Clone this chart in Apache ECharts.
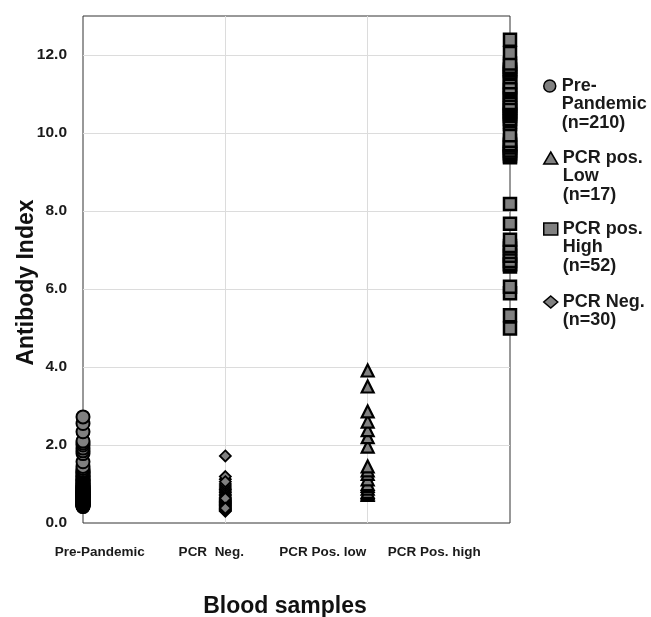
<!DOCTYPE html>
<html lang="en">
<head>
    <meta charset="UTF-8">
    <title>Antibody Index by blood sample group</title>
    <script src="https://cdn.jsdelivr.net/npm/echarts@6/dist/echarts.min.js"></script>
    <style>
        body, html {
            margin: 0;
            background: #fff;
        }
        #main {
            width: 651px;
            height: 617px;
        }
    </style>
</head>
<body>
<div id="main"></div>

<script>
    // x tick labels (drawn under the plot, not lined up with the columns)
    var categories = ['Pre-Pandemic', 'PCR  Neg.', 'PCR Pos. low', 'PCR Pos. high'];

    // antibody index values, drawn in list order
    // (mostly low to high, so the stacked outlines merge into a dark column)
    var prePandemic = [
        0.42, 0.43, 0.44, 0.45, 0.46, 0.47, 0.48, 0.49, 0.50, 0.51,
        0.52, 0.53, 0.54, 0.55, 0.56, 0.57, 0.58, 0.59, 0.60, 0.61,
        0.62, 0.63, 0.64, 0.65, 0.66, 0.67, 0.68, 0.69, 0.70, 0.71,
        0.72, 0.73, 0.74, 0.75, 0.76, 0.77, 0.78, 0.79, 0.80, 0.81,
        0.82, 0.83, 0.84, 0.85, 0.86, 0.87, 0.88, 0.90, 0.91, 0.92,
        0.94, 0.95, 0.96, 0.98, 1.00, 1.02, 1.04, 1.06, 1.08, 1.10,
        1.12, 1.15, 1.18, 1.20, 1.22, 1.25, 1.28, 1.30, 1.32, 1.35,
        1.40, 1.45, 1.57, 1.78, 1.85, 1.92, 2.00, 2.05, 2.10, 2.34,
        2.55, 2.72
    ];
    var pcrNeg = [
        0.30, 0.32, 0.34, 0.36, 0.40, 0.42, 0.44, 0.46, 0.48, 0.50,
        0.52, 0.54, 0.56, 0.58, 0.60, 0.66, 0.70, 0.74, 0.78, 0.82,
        0.86, 0.90, 0.95, 1.00, 1.12, 1.19, 1.72, 0.63, 0.38, 1.06
    ];
    var pcrPosLow = [
        0.72, 0.76, 0.80, 0.88, 0.95, 1.00, 1.12, 1.26, 1.35, 1.45,
        1.96, 2.20, 2.38, 2.60, 2.86, 3.50, 3.91
    ];
    var pcrPosHigh = [
        4.99, 5.33, 5.89, 6.06, 6.58, 6.62, 6.65, 6.72, 6.85, 6.95,
        7.04, 7.10, 7.26, 7.67, 8.18,
        9.38, 9.41, 9.46, 9.50, 9.55, 9.63, 9.68, 9.72, 9.80, 9.94,
        10.23, 10.30, 10.36, 10.44, 10.49, 10.54, 10.59, 10.64, 10.69, 10.73,
        10.77, 10.90, 10.98, 11.06, 11.10, 11.14, 11.17, 11.30, 11.43, 11.51,
        11.55, 11.60, 11.64, 11.70, 11.78, 12.05, 12.39
    ];

    var legendNames = ['Pre-\nPandemic\n(n=210)', 'PCR pos.\nLow\n(n=17)', 'PCR pos.\nHigh\n(n=52)', 'PCR Neg.\n(n=30)'];

    var font = 'Liberation Sans, Arial, sans-serif';
    var markFill = '#808080';
    var lineH = 18.5;
    var legendIconY = [86, 158, 229, 302];

    function toPoints(values, x) {
        return values.map(function (v) { return [x, v]; });
    }

    // one legend per entry; blank lines above the text keep the icon on the first line
    var legends = legendNames.map(function (name, i) {
        var lines = name.split('\n').length;
        return {
            data: [name],
            orient: 'vertical',
            left: 543,
            top: legendIconY[i] - (2 * lines - 1) * lineH / 2,
            padding: 0,
            itemWidth: 14,
            itemHeight: 12,
            selectedMode: false,
            itemStyle: { borderColor: '#000', borderWidth: 1.5 },
            formatter: function (n) {
                return new Array(lines).join('\n') + n;
            },
            textStyle: {
                fontFamily: font,
                fontSize: 18,
                fontWeight: 'bold',
                color: '#1a1a1a',
                lineHeight: lineH
            }
        };
    });

    var chart = echarts.init(document.getElementById('main'));

    var option = {
        animation: false,
        backgroundColor: '#fff',
        legend: legends,
        grid: [
            {
                left: 83, right: 141, top: 16, bottom: 94,
                outerBoundsMode: 'none',
                show: true, borderColor: '#333', borderWidth: 1,
                backgroundColor: 'transparent'
            },
            { left: 44, width: 446, top: 16, bottom: 94, outerBoundsMode: 'none' }
        ],
        xAxis: [
            {
                type: 'value', gridIndex: 0, min: 1, max: 4, interval: 1,
                axisLine: { show: false },
                axisTick: { show: false },
                axisLabel: { show: false },
                splitLine: {
                    show: true, showMinLine: false, showMaxLine: false,
                    lineStyle: { color: '#dcdcdc', width: 1 }
                },
                name: 'Blood samples',
                nameLocation: 'middle',
                nameGap: 72,
                nameMoveOverlap: false,
                nameTextStyle: {
                    fontFamily: font, fontSize: 23, fontWeight: 'bold', color: '#111',
                    padding: [0, 23, 0, 0]
                }
            },
            {
                type: 'category', gridIndex: 1, data: categories,
                boundaryGap: true,
                axisLine: { show: false },
                axisTick: { show: false },
                splitLine: { show: false },
                axisLabel: {
                    interval: 0,
                    margin: 22, fontFamily: font, fontSize: 13.5,
                    fontWeight: 'bold', color: '#1a1a1a'
                }
            }
        ],
        yAxis: [
            {
                type: 'value', gridIndex: 0, min: 0, max: 13, interval: 2,
                axisLine: { show: false },
                axisTick: { show: false },
                axisLabel: {
                    showMaxLabel: false,
                    margin: 16, fontFamily: font, fontSize: 15.5,
                    fontWeight: 'bold', color: '#1a1a1a',
                    formatter: function (v) { return v.toFixed(1); }
                },
                splitLine: {
                    show: true, showMinLine: false, showMaxLine: false,
                    lineStyle: { color: '#dcdcdc', width: 1 }
                },
                name: 'Antibody Index',
                nameLocation: 'middle',
                nameGap: 45,
                nameMoveOverlap: false,
                nameTextStyle: {
                    fontFamily: font, fontSize: 23, fontWeight: 'bold', color: '#111',
                    padding: [0, 26, 0, 0]
                }
            },
            { type: 'value', gridIndex: 1, show: false, min: 0, max: 13 }
        ],
        series: [
            {
                name: legendNames[0], type: 'scatter',
                xAxisIndex: 0, yAxisIndex: 0,
                symbol: 'circle', symbolSize: 13,
                itemStyle: { color: markFill, borderColor: '#000', borderWidth: 2, opacity: 1 },
                data: toPoints(prePandemic, 1)
            },
            {
                name: legendNames[3], type: 'scatter',
                xAxisIndex: 0, yAxisIndex: 0,
                symbol: 'diamond', symbolSize: [11, 11],
                itemStyle: { color: markFill, borderColor: '#000', borderWidth: 1.8, opacity: 1 },
                data: toPoints(pcrNeg, 2)
            },
            {
                name: legendNames[1], type: 'scatter',
                xAxisIndex: 0, yAxisIndex: 0,
                symbol: 'triangle', symbolSize: 12,
                itemStyle: { color: markFill, borderColor: '#000', borderWidth: 2.2, opacity: 1 },
                data: toPoints(pcrPosLow, 3)
            },
            {
                name: legendNames[2], type: 'scatter',
                xAxisIndex: 0, yAxisIndex: 0,
                symbol: 'rect', symbolSize: 12,
                itemStyle: { color: markFill, borderColor: '#000', borderWidth: 2.5, opacity: 1 },
                data: toPoints(pcrPosHigh, 4)
            }
        ]
    };

    chart.setOption(option);
</script>
</body>
</html>
